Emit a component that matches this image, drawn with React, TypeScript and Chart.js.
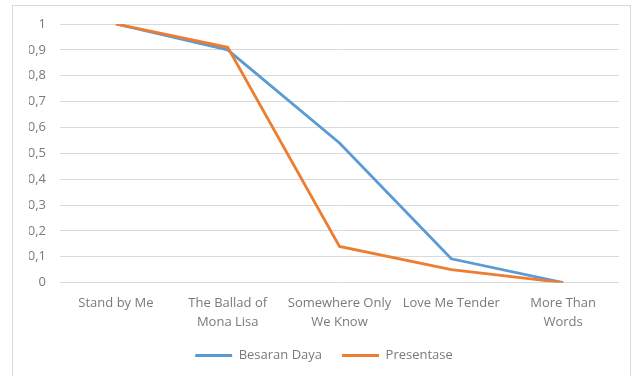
import React, { useEffect, useRef } from "react";
import { Chart, registerables } from "chart.js";

Chart.register(...registerables);

const categories: (string | string[])[] = [
  "Stand by Me",
  ["The Ballad of", "Mona Lisa"],
  ["Somewhere Only", "We Know"],
  "Love Me Tender",
  ["More Than", "Words"],
];

const besaranDaya = [1, 0.9, 0.54, 0.092, 0];
const presentase = [1, 0.91, 0.14, 0.05, 0];

const yTickLabels = ["0", "0,1", "0,2", "0,3", "0,4", "0,5", "0,6", "0,7", "0,8", "0,9", "1"];

const FONT = "'Open Sans', sans-serif";
const TEXT = "#7a7a7a";

export default function App() {
  const ref = useRef<HTMLCanvasElement | null>(null);

  useEffect(() => {
    if (!ref.current) return;
    const chart = new Chart(ref.current, {
      type: "line",
      data: {
        labels: categories,
        datasets: [
          {
            label: "Besaran Daya",
            data: besaranDaya,
            borderColor: "#5B9BD5",
            backgroundColor: "#5B9BD5",
            borderWidth: 2.8,
            pointRadius: 0,
            tension: 0,
            order: 1,
          },
          {
            label: "Presentase",
            data: presentase,
            borderColor: "#ED7D31",
            backgroundColor: "#ED7D31",
            borderWidth: 2.8,
            pointRadius: 0,
            tension: 0,
            order: 0,
          },
        ],
      },
      options: {
        animation: false,
        responsive: false,
        maintainAspectRatio: false,
        layout: { padding: { left: 29, right: 18, top: 24, bottom: 4 } },
        plugins: {
          tooltip: { enabled: false },
          legend: {
            position: "bottom",
            labels: {
              usePointStyle: true,
              pointStyle: "line",
              pointStyleWidth: 37,
              boxHeight: 13,
              padding: 20,
              color: TEXT,
              font: { family: FONT, size: 13 },
              sort: (a: any, b: any) => a.datasetIndex - b.datasetIndex,
            },
          },
        },
        scales: {
          x: {
            offset: true,
            grid: { display: false, drawTicks: false },
            border: { display: false },
            ticks: {
              color: TEXT,
              font: { family: FONT, size: 13, lineHeight: 1.4 },
              padding: 12,
              maxRotation: 0,
              autoSkip: false,
            },
            afterFit: (s: any) => {
              s.height -= 14;
            },
          },
          y: {
            min: 0,
            max: 1,
            grid: { color: "#d9d9d9", lineWidth: 1, drawTicks: false },
            border: { display: false },
            ticks: {
              stepSize: 0.1,
              color: TEXT,
              font: { family: FONT, size: 13 },
              padding: 14,
              callback: (_v: any, i: number) => yTickLabels[i],
            },
            afterFit: (s: any) => {
              s.width = 31;
            },
          },
        },
      },
    });
    return () => chart.destroy();
  }, []);

  return (
    <div style={{ position: "fixed", left: 0, top: 0, width: 637, height: 376, background: "#fff", overflow: "hidden" }}>
      <div
        style={{
          position: "absolute",
          left: 12,
          top: 5,
          width: 619,
          height: 390,
          border: "1px solid #d9d9d9",
          boxSizing: "border-box",
        }}
      />
      <canvas ref={ref} width={637} height={376} style={{ position: "absolute", left: 0, top: 0 }} />
    </div>
  );
}
